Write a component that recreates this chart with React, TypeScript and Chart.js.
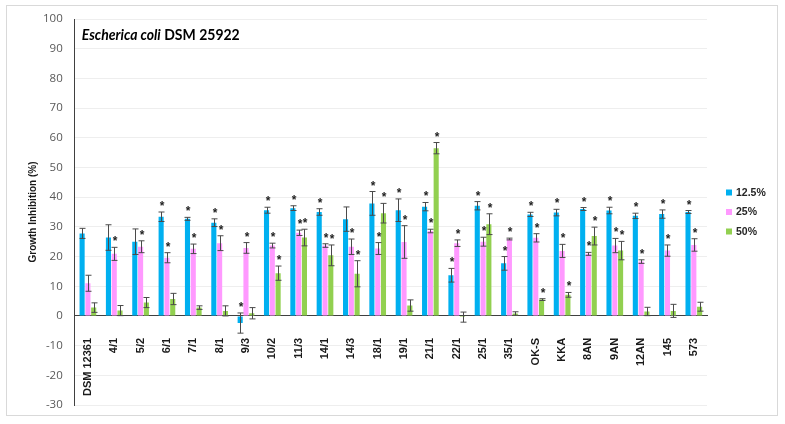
import React, { useEffect, useRef } from "react";
import { Chart, registerables } from "chart.js";

Chart.register(...registerables);

const categories = ["DSM 12361", "4/1", "5/2", "6/1", "7/1", "8/1", "9/3", "10/2", "11/3", "14/1", "14/3", "18/1", "19/1", "21/1", "22/1", "25/1", "35/1", "OK-S", "KKA", "8AN", "9AN", "12AN", "145", "573"];

const seriesLabels = ["12.5%", "25%", "50%"];

const inhib125 = [27.8, 26.4, 25.0, 33.4, 32.7, 31.4, -2.4, 35.6, 36.3, 35.0, 32.6, 37.9, 35.6, 36.8, 13.7, 37.1, 17.7, 34.2, 34.8, 36.0, 35.5, 33.7, 34.3, 35.0];
const err125 = [1.7, 4.3, 4.3, 1.6, 0.5, 1.3, 3.4, 1.0, 0.8, 1.1, 4.1, 4.0, 3.8, 1.4, 2.3, 1.4, 2.3, 0.7, 1.1, 0.5, 1.1, 0.9, 1.4, 0.5];
const sig125 = [0, 0, 0, 1, 1, 1, 1, 1, 1, 1, 0, 1, 1, 1, 1, 1, 1, 1, 1, 1, 1, 1, 1, 1];

const inhib25 = [11.0, 20.9, 23.3, 19.6, 22.6, 24.5, 22.9, 23.7, 28.0, 23.7, 23.3, 22.7, 24.9, 28.6, 24.5, 25.0, 25.9, 26.3, 21.9, 20.9, 23.7, 18.3, 22.0, 23.9];
const err25 = [2.7, 2.2, 2.0, 1.7, 1.6, 2.5, 1.8, 0.8, 0.9, 0.6, 2.6, 2.0, 5.5, 0.6, 1.1, 1.5, 0.3, 1.4, 2.2, 0.5, 2.4, 0.6, 1.9, 2.1];
const sig25 = [0, 1, 1, 1, 1, 1, 1, 1, 1, 1, 1, 1, 1, 1, 1, 1, 1, 1, 1, 1, 1, 1, 1, 1];

const inhib50 = [2.8, 1.8, 4.5, 5.7, 2.8, 1.7, 0.9, 14.4, 26.4, 20.4, 14.2, 34.6, 3.5, 56.5, -0.4, 30.9, 0.8, 5.5, 7.1, 26.9, 22.0, 1.5, 1.7, 3.1];
const err50 = [1.6, 1.7, 1.7, 1.9, 0.6, 1.7, 1.9, 2.4, 2.8, 3.5, 4.4, 3.3, 1.9, 1.9, 1.7, 3.5, 0.6, 0.3, 0.8, 3.0, 3.1, 1.4, 2.2, 1.5];
const sig50 = [0, 0, 0, 0, 0, 0, 0, 1, 1, 1, 1, 1, 0, 1, 0, 1, 0, 1, 1, 1, 1, 0, 0, 0];

const yTicksMin = -30;
const yTicksMax = 100;
const yTickStep = 10;
const yTitle = "Growth Inhibition (%)";
const chartTitleItalic = "Escherica coli";
const chartTitleBold = " DSM 25922";

const COLORS = ["#00B0F0", "#FF99FF", "#92D050"];
const errs = [err125, err25, err50];
const sigs = [sig125, sig25, sig50];

const extrasPlugin = {
  id: "extras",
  beforeDraw(chart: any) {
    const ctx = chart.ctx;
    ctx.save();
    ctx.fillStyle = "#ffffff";
    ctx.fillRect(0, 0, chart.width, chart.height);
    ctx.strokeStyle = "#d9d9d9";
    ctx.lineWidth = 1;
    ctx.strokeRect(6.5, 5.5, chart.width - 14, chart.height - 14);
    ctx.restore();
  },
  afterDatasetsDraw(chart: any) {
    const ctx = chart.ctx;
    const yScale = chart.scales.y;
    ctx.save();
    chart.data.datasets.forEach((ds: any, i: number) => {
      const meta = chart.getDatasetMeta(i);
      meta.data.forEach((el: any, j: number) => {
        const v = ds.data[j];
        const e = errs[i][j];
        const x = Math.round(el.x) + 0.5;
        const yt = yScale.getPixelForValue(v + e);
        const yb = yScale.getPixelForValue(v - e);
        ctx.strokeStyle = "#4a4a4a";
        ctx.lineWidth = 1;
        ctx.beginPath();
        ctx.moveTo(x, yt);
        ctx.lineTo(x, yb);
        ctx.moveTo(x - 3, yt);
        ctx.lineTo(x + 3, yt);
        ctx.moveTo(x - 3, yb);
        ctx.lineTo(x + 3, yb);
        ctx.stroke();
        if (sigs[i][j]) {
          const top = Math.min(yt, el.y);
          ctx.fillStyle = "#222";
          ctx.font = "bold 12px 'Liberation Sans', Arial, sans-serif";
          ctx.textAlign = "center";
          ctx.textBaseline = "alphabetic";
          ctx.fillText("*", x + 0.5, top - 2);
        }
      });
    });
    ctx.restore();
  },
  afterDraw(chart: any) {
    const ctx = chart.ctx;
    const area = chart.chartArea;
    ctx.save();
    // title
    const tx = area.left + 7;
    const ty = 40;
    const f1 = "italic bold 15px Lato, 'Liberation Sans', sans-serif";
    const f2 = "bold 15px Lato, 'Liberation Sans', sans-serif";
    ctx.font = f1;
    const w1 = ctx.measureText(chartTitleItalic).width;
    ctx.font = f2;
    const w2 = ctx.measureText(chartTitleBold).width;
    const sx = 158 / (w1 + w2);
    ctx.translate(tx, ty);
    ctx.scale(sx, 1);
    ctx.fillStyle = "#000";
    ctx.textBaseline = "alphabetic";
    ctx.textAlign = "left";
    ctx.font = f1;
    ctx.fillText(chartTitleItalic, 0, 0);
    ctx.font = f2;
    ctx.fillText(chartTitleBold, w1, 0);
    ctx.restore();

    // y axis title
    ctx.save();
    ctx.translate(33, (area.top + area.bottom) / 2);
    ctx.rotate(-Math.PI / 2);
    ctx.fillStyle = "#1a1a1a";
    ctx.font = "bold 10px 'Liberation Sans', Arial, sans-serif";
    ctx.textAlign = "center";
    ctx.textBaseline = "middle";
    ctx.fillText(yTitle, 0, 0);
    ctx.restore();

    // legend
    ctx.save();
    const lx = area.right + 19;
    const cy = (area.top + area.bottom) / 2;
    const pitch = 19.5;
    seriesLabels.forEach((lab, i) => {
      const y = cy + (i - 1) * pitch;
      ctx.fillStyle = COLORS[i];
      ctx.fillRect(lx, y - 3, 6, 6);
      ctx.fillStyle = "#262626";
      ctx.font = "bold 10.5px 'Liberation Sans', Arial, sans-serif";
      ctx.textAlign = "left";
      ctx.textBaseline = "middle";
      ctx.fillText(lab, lx + 10, y + 0.5);
    });
    ctx.restore();
  },
};

export default function App() {
  const ref = useRef<HTMLCanvasElement | null>(null);
  useEffect(() => {
    if (!ref.current) return;
    const chart = new Chart(ref.current, {
      type: "bar",
      data: {
        labels: categories,
        datasets: [
          { label: seriesLabels[0], data: inhib125, backgroundColor: COLORS[0] },
          { label: seriesLabels[1], data: inhib25, backgroundColor: COLORS[1] },
          { label: seriesLabels[2], data: inhib50, backgroundColor: COLORS[2] },
        ],
      },
      options: {
        responsive: false,
        animation: false,
        datasets: { bar: { categoryPercentage: 0.66, barPercentage: 0.88 } },
        layout: { padding: { left: 31, right: 78, top: 19, bottom: 19 } },
        plugins: { legend: { display: false }, tooltip: { enabled: false } },
        scales: {
          x: {
            position: { y: 0 } as any,
            grid: { display: false, drawTicks: false },
            border: { display: true, color: "#404040", width: 1 },
            ticks: {
              autoSkip: false,
              minRotation: 90,
              maxRotation: 90,
              padding: 22,
              color: "#1a1a1a",
              font: { family: "'Liberation Sans', Arial, sans-serif", size: 11, weight: "bold" },
            },
          },
          y: {
            min: yTicksMin,
            max: yTicksMax,
            ticks: {
              stepSize: yTickStep,
              padding: 12,
              color: "#595959",
              font: { family: "'Open Sans', sans-serif", size: 11.5 },
            },
            grid: { color: "#eeeeee", drawTicks: false },
            border: { display: true, color: "#404040", width: 1 },
            title: { display: false },
          },
        },
      },
      plugins: [extrasPlugin],
    });
    return () => chart.destroy();
  }, []);
  return (
    <div style={{ position: "absolute", left: 0, top: 0, width: 785, height: 424 }}>
      <canvas ref={ref} width={785} height={424} style={{ display: "block" }} />
    </div>
  );
}
